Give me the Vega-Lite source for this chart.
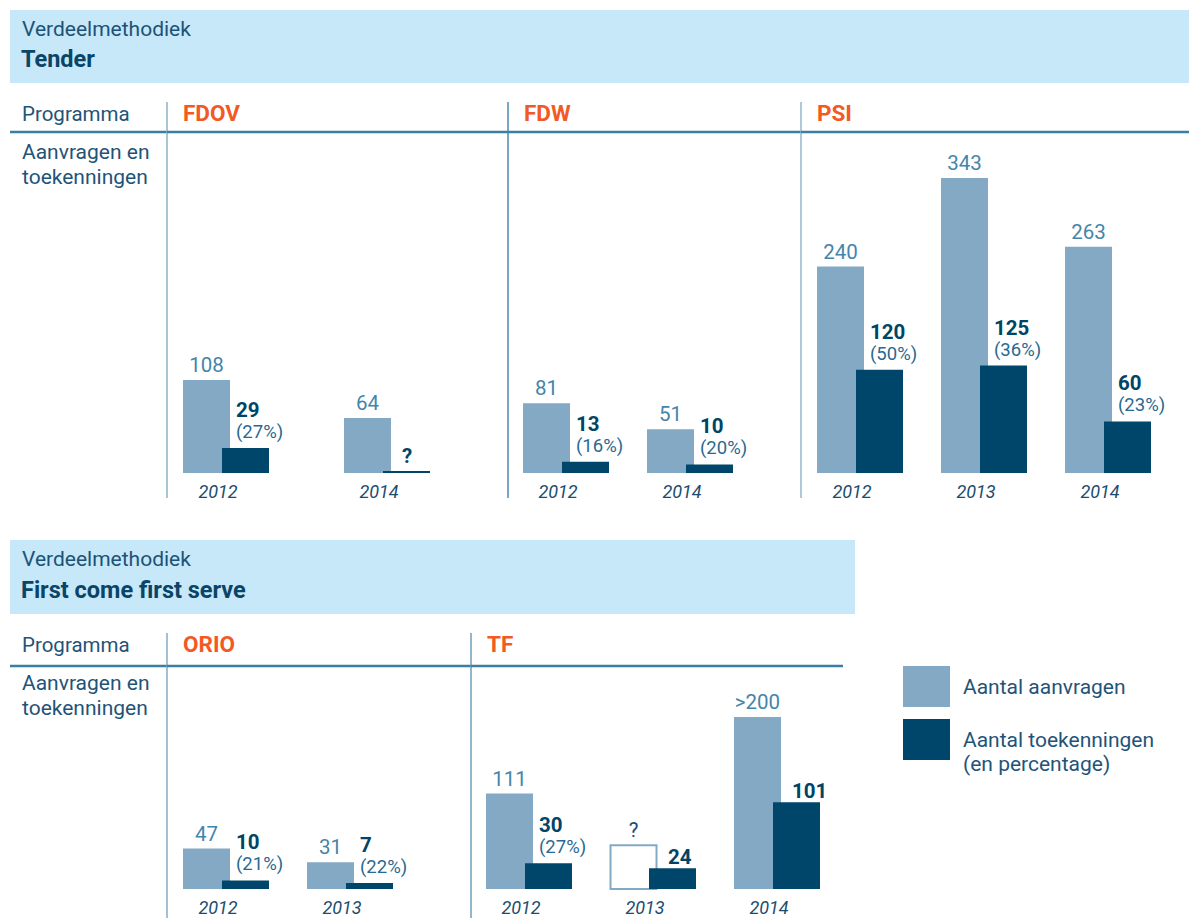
{
  "$schema": "https://vega.github.io/schema/vega-lite/v6.json",
  "padding": {"left": 8, "top": 10, "right": 0, "bottom": 0},
  "background": "white",
  "config": {"view": {"stroke": null}, "font": "Roboto", "text": {"font": "Roboto"}, "concat": {"spacing": 0}, "axis": {"disable": true}},
  "datasets": {
    "rijen": [
      {"programma": "FDOV", "jaar": "2012", "aanvragen": 108, "aanvragen_tekst": "108", "toekenningen": 29, "percentage": "(27%)"},
      {"programma": "FDOV", "jaar": "2014", "aanvragen": 64, "aanvragen_tekst": "64", "toekenningen": null, "percentage": null},
      {"programma": "FDW", "jaar": "2012", "aanvragen": 81, "aanvragen_tekst": "81", "toekenningen": 13, "percentage": "(16%)"},
      {"programma": "FDW", "jaar": "2014", "aanvragen": 51, "aanvragen_tekst": "51", "toekenningen": 10, "percentage": "(20%)"},
      {"programma": "PSI", "jaar": "2012", "aanvragen": 240, "aanvragen_tekst": "240", "toekenningen": 120, "percentage": "(50%)"},
      {"programma": "PSI", "jaar": "2013", "aanvragen": 343, "aanvragen_tekst": "343", "toekenningen": 125, "percentage": "(36%)"},
      {"programma": "PSI", "jaar": "2014", "aanvragen": 263, "aanvragen_tekst": "263", "toekenningen": 60, "percentage": "(23%)"},
      {"programma": "ORIO", "jaar": "2012", "aanvragen": 47, "aanvragen_tekst": "47", "toekenningen": 10, "percentage": "(21%)"},
      {"programma": "ORIO", "jaar": "2013", "aanvragen": 31, "aanvragen_tekst": "31", "toekenningen": 7, "percentage": "(22%)"},
      {"programma": "TF", "jaar": "2012", "aanvragen": 111, "aanvragen_tekst": "111", "toekenningen": 30, "percentage": "(27%)"},
      {"programma": "TF", "jaar": "2013", "aanvragen": null, "aanvragen_tekst": "?", "toekenningen": 24, "percentage": null},
      {"programma": "TF", "jaar": "2014", "aanvragen": 200, "aanvragen_tekst": ">200", "toekenningen": 101, "percentage": null}
    ]
  },
  "spacing": 0,
  "resolve": {"scale": {"x": "independent", "y": "independent", "color": "independent"}},
  "vconcat": [
    {
      "width": 1179, "height": 73,
      "view": {"fill": "#c6e8f8", "stroke": null},
      "layer": [
        {"data": {"values": [{"t": "Verdeelmethodiek"}]}, "mark": {"type": "text", "align": "left", "baseline": "alphabetic", "fontSize": 21, "color": "#1d5276"}, "encoding": {"text": {"field": "t"}, "x": {"value": 12}, "y": {"value": 26}}},
        {"data": {"values": [{"t": "Tender"}]}, "mark": {"type": "text", "align": "left", "baseline": "alphabetic", "fontSize": 23.5, "fontWeight": "bold", "color": "#0a4466"}, "encoding": {"text": {"field": "t"}, "x": {"value": 11}, "y": {"value": 57}}}
      ]
    },
    {
      "bounds": "flush",
      "spacing": 0,
      "resolve": {"scale": {"x": "independent", "y": "independent"}},
      "hconcat": [
        {
          "width": 157, "height": 457,
          "layer": [
            {"data": {"values": [{"t": "Programma"}]}, "mark": {"type": "text", "align": "left", "baseline": "alphabetic", "fontSize": 20.5, "color": "#1f5478"}, "encoding": {"text": {"field": "t"}, "x": {"value": 12}, "y": {"value": 38}}},
            {"data": {"values": [{"t": "Aanvragen en\ntoekenningen"}]}, "mark": {"type": "text", "align": "left", "baseline": "alphabetic", "fontSize": 21, "lineBreak": "\n", "lineHeight": 25, "color": "#1f5478"}, "encoding": {"text": {"field": "t"}, "x": {"value": 12}, "y": {"value": 76}}},
            {"data": {"values": [{}]}, "mark": {"type": "rule", "color": "#3a7ea3", "strokeWidth": 2.5}, "encoding": {"x": {"value": 0}, "x2": {"value": 157}, "y": {"value": 49}}}
          ]
        },
        {
          "width": 341, "height": 457,
          "data": {"name": "rijen"},
          "transform": [{"filter": "datum.programma == 'FDOV'"}],
          "layer": [
            {"data": {"values": [{"programma": "FDOV"}]}, "mark": {"type": "text", "align": "left", "baseline": "alphabetic", "fontSize": 22.5, "fontWeight": "bold", "color": "#f15a24"}, "encoding": {"text": {"field": "programma"}, "x": {"value": 16}, "y": {"value": 38}}},
            {"data": {"values": [{"programma": "FDOV"}]}, "mark": {"type": "rule", "color": "#8db3c8", "strokeWidth": 1.5}, "encoding": {"x": {"value": 0}, "y": {"value": 19}, "y2": {"value": 415}}},
            {"data": {"values": [{"programma": "FDOV"}]}, "mark": {"type": "rule", "color": "#3a7ea3", "strokeWidth": 2.5}, "encoding": {"x": {"value": 0}, "x2": {"value": 341}, "y": {"value": 49}}},
            {"transform": [{"filter": "isValid(datum.aanvragen)"}], "mark": {"type": "bar", "width": 47, "xOffset": -19.5, "color": "#84a9c4"}, "encoding": {"x": {"field": "jaar", "type": "ordinal", "scale": {"type": "point", "domain": ["2012", "2014"], "range": [59, 220], "padding": 0}, "axis": null}, "y": {"field": "aanvragen", "type": "quantitative", "scale": {"domain": [0, 400], "range": [390, 46]}, "axis": null}}},
            {"transform": [{"filter": "isValid(datum.toekenningen)"}], "mark": {"type": "bar", "width": 47, "xOffset": 19.5, "color": "#00466a"}, "encoding": {"x": {"field": "jaar", "type": "ordinal"}, "y": {"field": "toekenningen", "type": "quantitative"}}},
            {"transform": [{"filter": "!isValid(datum.toekenningen)"}], "mark": {"type": "tick", "orient": "horizontal", "thickness": 2, "size": 47, "xOffset": 19.5, "yOffset": -1, "color": "#00466a", "opacity": 1}, "encoding": {"x": {"field": "jaar", "type": "ordinal"}, "y": {"datum": 0, "type": "quantitative"}}},
            {"transform": [{"filter": "isValid(datum.aanvragen)"}], "mark": {"type": "text", "align": "center", "baseline": "alphabetic", "xOffset": -19.5, "dy": -8, "fontSize": 20.5, "color": "#4385aa"}, "encoding": {"x": {"field": "jaar", "type": "ordinal"}, "y": {"field": "aanvragen", "type": "quantitative"}, "text": {"field": "aanvragen_tekst"}}},
            {"transform": [{"filter": "isValid(datum.percentage)"}], "mark": {"type": "text", "align": "left", "baseline": "alphabetic", "xOffset": 10, "dy": -31, "fontSize": 20.5, "fontWeight": "bold", "color": "#004466"}, "encoding": {"x": {"field": "jaar", "type": "ordinal"}, "y": {"field": "toekenningen", "type": "quantitative"}, "text": {"field": "toekenningen"}}},
            {"transform": [{"filter": "isValid(datum.percentage)"}], "mark": {"type": "text", "align": "left", "baseline": "alphabetic", "xOffset": 10, "dy": -10, "fontSize": 18.5, "color": "#2a6990"}, "encoding": {"x": {"field": "jaar", "type": "ordinal"}, "y": {"field": "toekenningen", "type": "quantitative"}, "text": {"field": "percentage"}}},
            {"transform": [{"filter": "!isValid(datum.toekenningen)"}], "mark": {"type": "text", "align": "left", "baseline": "alphabetic", "xOffset": 15, "dy": -10, "fontSize": 20.5, "fontWeight": "bold", "color": "#004466", "text": "?"}, "encoding": {"x": {"field": "jaar", "type": "ordinal"}, "y": {"datum": 0, "type": "quantitative"}}},
            {"mark": {"type": "text", "align": "center", "baseline": "alphabetic", "xOffset": -8, "dy": 25, "fontSize": 18, "fontStyle": "italic", "color": "#1b4d70"}, "encoding": {"x": {"field": "jaar", "type": "ordinal"}, "y": {"datum": 0, "type": "quantitative"}, "text": {"field": "jaar"}}}
          ]
        },
        {
          "width": 293, "height": 457,
          "data": {"name": "rijen"},
          "transform": [{"filter": "datum.programma == 'FDW'"}],
          "layer": [
            {"data": {"values": [{"programma": "FDW"}]}, "mark": {"type": "text", "align": "left", "baseline": "alphabetic", "fontSize": 22.5, "fontWeight": "bold", "color": "#f15a24"}, "encoding": {"text": {"field": "programma"}, "x": {"value": 16}, "y": {"value": 38}}},
            {"data": {"values": [{"programma": "FDW"}]}, "mark": {"type": "rule", "color": "#4d8ab0", "strokeWidth": 1.5}, "encoding": {"x": {"value": 0}, "y": {"value": 19}, "y2": {"value": 415}}},
            {"data": {"values": [{"programma": "FDW"}]}, "mark": {"type": "rule", "color": "#3a7ea3", "strokeWidth": 2.5}, "encoding": {"x": {"value": 0}, "x2": {"value": 293}, "y": {"value": 49}}},
            {"transform": [{"filter": "isValid(datum.aanvragen)"}], "mark": {"type": "bar", "width": 47, "xOffset": -19.5, "color": "#84a9c4"}, "encoding": {"x": {"field": "jaar", "type": "ordinal", "scale": {"type": "point", "domain": ["2012", "2014"], "range": [58, 182], "padding": 0}, "axis": null}, "y": {"field": "aanvragen", "type": "quantitative", "scale": {"domain": [0, 400], "range": [390, 46]}, "axis": null}}},
            {"transform": [{"filter": "isValid(datum.toekenningen)"}], "mark": {"type": "bar", "width": 47, "xOffset": 19.5, "color": "#00466a"}, "encoding": {"x": {"field": "jaar", "type": "ordinal"}, "y": {"field": "toekenningen", "type": "quantitative"}}},
            {"transform": [{"filter": "isValid(datum.aanvragen)"}], "mark": {"type": "text", "align": "center", "baseline": "alphabetic", "xOffset": -19.5, "dy": -8, "fontSize": 20.5, "color": "#4385aa"}, "encoding": {"x": {"field": "jaar", "type": "ordinal"}, "y": {"field": "aanvragen", "type": "quantitative"}, "text": {"field": "aanvragen_tekst"}}},
            {"transform": [{"filter": "isValid(datum.percentage)"}], "mark": {"type": "text", "align": "left", "baseline": "alphabetic", "xOffset": 10, "dy": -31, "fontSize": 20.5, "fontWeight": "bold", "color": "#004466"}, "encoding": {"x": {"field": "jaar", "type": "ordinal"}, "y": {"field": "toekenningen", "type": "quantitative"}, "text": {"field": "toekenningen"}}},
            {"transform": [{"filter": "isValid(datum.percentage)"}], "mark": {"type": "text", "align": "left", "baseline": "alphabetic", "xOffset": 10, "dy": -10, "fontSize": 18.5, "color": "#2a6990"}, "encoding": {"x": {"field": "jaar", "type": "ordinal"}, "y": {"field": "toekenningen", "type": "quantitative"}, "text": {"field": "percentage"}}},
            {"mark": {"type": "text", "align": "center", "baseline": "alphabetic", "xOffset": -8, "dy": 25, "fontSize": 18, "fontStyle": "italic", "color": "#1b4d70"}, "encoding": {"x": {"field": "jaar", "type": "ordinal"}, "y": {"datum": 0, "type": "quantitative"}, "text": {"field": "jaar"}}}
          ]
        },
        {
          "width": 388, "height": 457,
          "data": {"name": "rijen"},
          "transform": [{"filter": "datum.programma == 'PSI'"}],
          "layer": [
            {"data": {"values": [{"programma": "PSI"}]}, "mark": {"type": "text", "align": "left", "baseline": "alphabetic", "fontSize": 22.5, "fontWeight": "bold", "color": "#f15a24"}, "encoding": {"text": {"field": "programma"}, "x": {"value": 16}, "y": {"value": 38}}},
            {"data": {"values": [{"programma": "PSI"}]}, "mark": {"type": "rule", "color": "#93b8cc", "strokeWidth": 1.5}, "encoding": {"x": {"value": 0}, "y": {"value": 19}, "y2": {"value": 415}}},
            {"data": {"values": [{"programma": "PSI"}]}, "mark": {"type": "rule", "color": "#3a7ea3", "strokeWidth": 2.5}, "encoding": {"x": {"value": 0}, "x2": {"value": 388}, "y": {"value": 49}}},
            {"transform": [{"filter": "isValid(datum.aanvragen)"}], "mark": {"type": "bar", "width": 47, "xOffset": -19.5, "color": "#84a9c4"}, "encoding": {"x": {"field": "jaar", "type": "ordinal", "scale": {"type": "point", "domain": ["2012", "2013", "2014"], "range": [59, 307], "padding": 0}, "axis": null}, "y": {"field": "aanvragen", "type": "quantitative", "scale": {"domain": [0, 400], "range": [390, 46]}, "axis": null}}},
            {"transform": [{"filter": "isValid(datum.toekenningen)"}], "mark": {"type": "bar", "width": 47, "xOffset": 19.5, "color": "#00466a"}, "encoding": {"x": {"field": "jaar", "type": "ordinal"}, "y": {"field": "toekenningen", "type": "quantitative"}}},
            {"transform": [{"filter": "isValid(datum.aanvragen)"}], "mark": {"type": "text", "align": "center", "baseline": "alphabetic", "xOffset": -19.5, "dy": -8, "fontSize": 20.5, "color": "#4385aa"}, "encoding": {"x": {"field": "jaar", "type": "ordinal"}, "y": {"field": "aanvragen", "type": "quantitative"}, "text": {"field": "aanvragen_tekst"}}},
            {"transform": [{"filter": "isValid(datum.percentage)"}], "mark": {"type": "text", "align": "left", "baseline": "alphabetic", "xOffset": 10, "dy": -31, "fontSize": 20.5, "fontWeight": "bold", "color": "#004466"}, "encoding": {"x": {"field": "jaar", "type": "ordinal"}, "y": {"field": "toekenningen", "type": "quantitative"}, "text": {"field": "toekenningen"}}},
            {"transform": [{"filter": "isValid(datum.percentage)"}], "mark": {"type": "text", "align": "left", "baseline": "alphabetic", "xOffset": 10, "dy": -10, "fontSize": 18.5, "color": "#2a6990"}, "encoding": {"x": {"field": "jaar", "type": "ordinal"}, "y": {"field": "toekenningen", "type": "quantitative"}, "text": {"field": "percentage"}}},
            {"mark": {"type": "text", "align": "center", "baseline": "alphabetic", "xOffset": -8, "dy": 25, "fontSize": 18, "fontStyle": "italic", "color": "#1b4d70"}, "encoding": {"x": {"field": "jaar", "type": "ordinal"}, "y": {"datum": 0, "type": "quantitative"}, "text": {"field": "jaar"}}}
          ]
        }
      ]
    },
    {
      "width": 845, "height": 74,
      "view": {"fill": "#c6e8f8", "stroke": null},
      "layer": [
        {"data": {"values": [{"t": "Verdeelmethodiek"}]}, "mark": {"type": "text", "align": "left", "baseline": "alphabetic", "fontSize": 21, "color": "#1d5276"}, "encoding": {"text": {"field": "t"}, "x": {"value": 12}, "y": {"value": 26}}},
        {"data": {"values": [{"t": "First come first serve"}]}, "mark": {"type": "text", "align": "left", "baseline": "alphabetic", "fontSize": 23.5, "fontWeight": "bold", "color": "#0a4466"}, "encoding": {"text": {"field": "t"}, "x": {"value": 11}, "y": {"value": 58}}}
      ]
    },
    {
      "bounds": "flush",
      "spacing": 0,
      "resolve": {"scale": {"x": "independent", "y": "independent", "color": "independent"}},
      "hconcat": [
        {
          "width": 157, "height": 304,
          "layer": [
            {"data": {"values": [{"t": "Programma"}]}, "mark": {"type": "text", "align": "left", "baseline": "alphabetic", "fontSize": 20.5, "color": "#1f5478"}, "encoding": {"text": {"field": "t"}, "x": {"value": 12}, "y": {"value": 38}}},
            {"data": {"values": [{"t": "Aanvragen en\ntoekenningen"}]}, "mark": {"type": "text", "align": "left", "baseline": "alphabetic", "fontSize": 21, "lineBreak": "\n", "lineHeight": 25, "color": "#1f5478"}, "encoding": {"text": {"field": "t"}, "x": {"value": 12}, "y": {"value": 76}}},
            {"data": {"values": [{}]}, "mark": {"type": "rule", "color": "#3a7ea3", "strokeWidth": 2.5}, "encoding": {"x": {"value": 0}, "x2": {"value": 157}, "y": {"value": 52}}}
          ]
        },
        {
          "width": 304, "height": 304,
          "data": {"name": "rijen"},
          "transform": [{"filter": "datum.programma == 'ORIO'"}],
          "layer": [
            {"data": {"values": [{"programma": "ORIO"}]}, "mark": {"type": "text", "align": "left", "baseline": "alphabetic", "fontSize": 22.5, "fontWeight": "bold", "color": "#f15a24"}, "encoding": {"text": {"field": "programma"}, "x": {"value": 16}, "y": {"value": 38}}},
            {"data": {"values": [{"programma": "ORIO"}]}, "mark": {"type": "rule", "color": "#86adc4", "strokeWidth": 1.5}, "encoding": {"x": {"value": 0}, "y": {"value": 19}, "y2": {"value": 304}}},
            {"data": {"values": [{"programma": "ORIO"}]}, "mark": {"type": "rule", "color": "#3a7ea3", "strokeWidth": 2.5}, "encoding": {"x": {"value": 0}, "x2": {"value": 304}, "y": {"value": 52}}},
            {"transform": [{"filter": "isValid(datum.aanvragen)"}], "mark": {"type": "bar", "width": 47, "xOffset": -19.5, "color": "#84a9c4"}, "encoding": {"x": {"field": "jaar", "type": "ordinal", "scale": {"type": "point", "domain": ["2012", "2013"], "range": [59, 183], "padding": 0}, "axis": null}, "y": {"field": "aanvragen", "type": "quantitative", "scale": {"domain": [0, 300], "range": [275, 17]}, "axis": null}}},
            {"transform": [{"filter": "isValid(datum.toekenningen)"}], "mark": {"type": "bar", "width": 47, "xOffset": 19.5, "color": "#00466a"}, "encoding": {"x": {"field": "jaar", "type": "ordinal"}, "y": {"field": "toekenningen", "type": "quantitative"}}},
            {"transform": [{"filter": "isValid(datum.aanvragen)"}], "mark": {"type": "text", "align": "center", "baseline": "alphabetic", "xOffset": -19.5, "dy": -8, "fontSize": 20.5, "color": "#4385aa"}, "encoding": {"x": {"field": "jaar", "type": "ordinal"}, "y": {"field": "aanvragen", "type": "quantitative"}, "text": {"field": "aanvragen_tekst"}}},
            {"transform": [{"filter": "isValid(datum.percentage)"}], "mark": {"type": "text", "align": "left", "baseline": "alphabetic", "xOffset": 10, "dy": -31, "fontSize": 20.5, "fontWeight": "bold", "color": "#004466"}, "encoding": {"x": {"field": "jaar", "type": "ordinal"}, "y": {"field": "toekenningen", "type": "quantitative"}, "text": {"field": "toekenningen"}}},
            {"transform": [{"filter": "isValid(datum.percentage)"}], "mark": {"type": "text", "align": "left", "baseline": "alphabetic", "xOffset": 10, "dy": -10, "fontSize": 18.5, "color": "#2a6990"}, "encoding": {"x": {"field": "jaar", "type": "ordinal"}, "y": {"field": "toekenningen", "type": "quantitative"}, "text": {"field": "percentage"}}},
            {"mark": {"type": "text", "align": "center", "baseline": "alphabetic", "xOffset": -8, "dy": 25, "fontSize": 18, "fontStyle": "italic", "color": "#1b4d70"}, "encoding": {"x": {"field": "jaar", "type": "ordinal"}, "y": {"datum": 0, "type": "quantitative"}, "text": {"field": "jaar"}}}
          ]
        },
        {
          "width": 372, "height": 304,
          "data": {"name": "rijen"},
          "transform": [{"filter": "datum.programma == 'TF'"}],
          "layer": [
            {"data": {"values": [{"programma": "TF"}]}, "mark": {"type": "text", "align": "left", "baseline": "alphabetic", "fontSize": 22.5, "fontWeight": "bold", "color": "#f15a24"}, "encoding": {"text": {"field": "programma"}, "x": {"value": 16}, "y": {"value": 38}}},
            {"data": {"values": [{"programma": "TF"}]}, "mark": {"type": "rule", "color": "#6e9fbd", "strokeWidth": 1.5}, "encoding": {"x": {"value": 0}, "y": {"value": 19}, "y2": {"value": 304}}},
            {"data": {"values": [{"programma": "TF"}]}, "mark": {"type": "rule", "color": "#3a7ea3", "strokeWidth": 2.5}, "encoding": {"x": {"value": 0}, "x2": {"value": 372}, "y": {"value": 52}}},
            {"transform": [{"filter": "isValid(datum.aanvragen)"}], "mark": {"type": "bar", "width": 47, "xOffset": -19.5, "color": "#84a9c4"}, "encoding": {"x": {"field": "jaar", "type": "ordinal", "scale": {"type": "point", "domain": ["2012", "2013", "2014"], "range": [58, 306], "padding": 0}, "axis": null}, "y": {"field": "aanvragen", "type": "quantitative", "scale": {"domain": [0, 300], "range": [275, 17]}, "axis": null}}},
            {"transform": [{"filter": "!isValid(datum.aanvragen)"}], "mark": {"type": "bar", "width": 46, "xOffset": -19.5, "fill": "white", "stroke": "#84a9c4", "strokeWidth": 2}, "encoding": {"x": {"field": "jaar", "type": "ordinal"}, "y": {"datum": 0, "type": "quantitative"}, "y2": {"datum": 51}}},
            {"transform": [{"filter": "isValid(datum.toekenningen)"}], "mark": {"type": "bar", "width": 47, "xOffset": 19.5, "color": "#00466a"}, "encoding": {"x": {"field": "jaar", "type": "ordinal"}, "y": {"field": "toekenningen", "type": "quantitative"}}},
            {"transform": [{"filter": "isValid(datum.aanvragen)"}], "mark": {"type": "text", "align": "center", "baseline": "alphabetic", "xOffset": -19.5, "dy": -8, "fontSize": 20.5, "color": "#4385aa"}, "encoding": {"x": {"field": "jaar", "type": "ordinal"}, "y": {"field": "aanvragen", "type": "quantitative"}, "text": {"field": "aanvragen_tekst"}}},
            {"transform": [{"filter": "!isValid(datum.aanvragen)"}], "mark": {"type": "text", "align": "center", "baseline": "alphabetic", "xOffset": -19.5, "dy": -8, "fontSize": 20.5, "color": "#1b4d70"}, "encoding": {"x": {"field": "jaar", "type": "ordinal"}, "y": {"datum": 51, "type": "quantitative"}, "text": {"field": "aanvragen_tekst"}}},
            {"transform": [{"filter": "isValid(datum.percentage)"}], "mark": {"type": "text", "align": "left", "baseline": "alphabetic", "xOffset": 10, "dy": -31, "fontSize": 20.5, "fontWeight": "bold", "color": "#004466"}, "encoding": {"x": {"field": "jaar", "type": "ordinal"}, "y": {"field": "toekenningen", "type": "quantitative"}, "text": {"field": "toekenningen"}}},
            {"transform": [{"filter": "isValid(datum.percentage)"}], "mark": {"type": "text", "align": "left", "baseline": "alphabetic", "xOffset": 10, "dy": -10, "fontSize": 18.5, "color": "#2a6990"}, "encoding": {"x": {"field": "jaar", "type": "ordinal"}, "y": {"field": "toekenningen", "type": "quantitative"}, "text": {"field": "percentage"}}},
            {"transform": [{"filter": "isValid(datum.toekenningen) && !isValid(datum.percentage)"}], "mark": {"type": "text", "align": "left", "baseline": "alphabetic", "xOffset": 15, "dy": -4, "fontSize": 20.5, "fontWeight": "bold", "color": "#004466"}, "encoding": {"x": {"field": "jaar", "type": "ordinal"}, "y": {"field": "toekenningen", "type": "quantitative"}, "text": {"field": "toekenningen"}}},
            {"mark": {"type": "text", "align": "center", "baseline": "alphabetic", "xOffset": -8, "dy": 25, "fontSize": 18, "fontStyle": "italic", "color": "#1b4d70"}, "encoding": {"x": {"field": "jaar", "type": "ordinal"}, "y": {"datum": 0, "type": "quantitative"}, "text": {"field": "jaar"}}}
          ]
        },
        {
          "width": 346, "height": 304,
          "data": {"values": [{"reeks": "Aantal aanvragen"}, {"reeks": "Aantal toekenningen\n(en percentage)"}]},
          "encoding": {"y": {"field": "reeks", "type": "nominal", "scale": {"type": "band", "domain": ["Aantal aanvragen", "Aantal toekenningen\n(en percentage)"], "range": [52, 146], "paddingInner": 0.2264, "paddingOuter": 0}, "axis": null}},
          "layer": [
            {"mark": {"type": "rect"}, "encoding": {"x": {"value": 60}, "x2": {"value": 107}, "color": {"field": "reeks", "type": "nominal", "scale": {"domain": ["Aantal aanvragen", "Aantal toekenningen\n(en percentage)"], "range": ["#84a9c4", "#00466a"]}, "legend": null}}},
            {"mark": {"type": "text", "align": "left", "baseline": "alphabetic", "dy": 7.5, "fontSize": 21, "lineBreak": "\n", "lineHeight": 24, "color": "#1f5478"}, "encoding": {"x": {"value": 120}, "text": {"field": "reeks"}}}
          ]
        }
      ]
    }
  ]
}
